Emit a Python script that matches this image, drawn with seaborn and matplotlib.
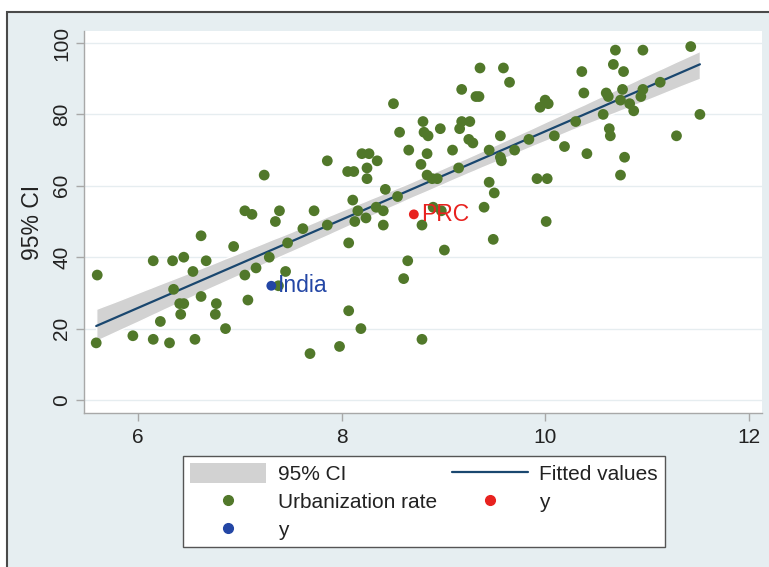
import numpy as np
import pandas as pd
import matplotlib
matplotlib.use("Agg")
import matplotlib.pyplot as plt
import seaborn as sns
from matplotlib.patches import Rectangle, Patch
from matplotlib.lines import Line2D

# log GDP per capita (x) and urbanization rate (y)
gdp = [5.60, 5.59, 5.95, 6.15, 6.34, 6.45, 6.62, 6.67, 6.54, 6.94,
       7.05, 7.12, 7.05, 7.16, 7.08, 6.35, 6.41, 6.45, 6.42, 6.62,
       6.77, 6.76, 6.86, 6.22, 6.15, 6.31, 6.56, 7.24, 7.86, 8.06,
       8.12, 8.20, 8.27, 8.25, 8.25, 8.35, 8.51, 8.57, 8.43, 8.55,
       8.11, 8.16, 8.13, 8.24, 8.34, 8.41, 8.41, 8.07, 7.73, 7.86,
       7.62, 7.47, 7.39, 7.35, 7.29, 7.45, 7.38, 7.69, 7.98, 8.07,
       8.19, 8.79, 8.65, 8.61, 8.79, 8.80, 8.81, 8.85, 8.66, 8.84,
       8.78, 8.84, 9.36, 9.59, 9.65, 9.18, 9.32, 9.35, 10.36, 10.38,
       10.00, 10.03, 9.95, 8.97, 9.18, 9.26, 9.16, 9.25, 9.29, 9.09,
       9.56, 9.45, 9.56, 9.57, 9.70, 9.84, 10.09, 10.19, 10.30, 10.41,
       10.57, 9.15, 8.89, 8.94, 9.45, 9.50, 9.92, 10.02, 9.40, 8.90,
       8.98, 10.01, 9.01, 9.49, 10.60, 10.62, 10.67, 10.69, 10.96, 10.77,
       10.76, 10.74, 10.83, 10.87, 10.96, 10.94, 11.13, 11.43, 11.52, 11.29,
       10.63, 10.64, 10.78, 10.74]
urban = [35, 16, 18, 39, 39, 40, 46, 39, 36, 43,
         53, 52, 35, 37, 28, 31, 27, 27, 24, 29,
         27, 24, 20, 22, 17, 16, 17, 63, 67, 64,
         64, 69, 69, 65, 62, 67, 83, 75, 59, 57,
         56, 53, 50, 51, 54, 53, 49, 44, 53, 49,
         48, 44, 53, 50, 40, 36, 32, 13, 15, 25,
         20, 49, 39, 34, 17, 78, 75, 74, 70, 69,
         66, 63, 93, 93, 89, 87, 85, 85, 92, 86,
         84, 83, 82, 76, 78, 78, 76, 73, 72, 70,
         74, 70, 68, 67, 70, 73, 74, 71, 78, 69,
         80, 65, 62, 62, 61, 58, 62, 62, 54, 54,
         53, 50, 42, 45, 86, 85, 94, 98, 98, 92,
         87, 84, 83, 81, 87, 85, 89, 99, 80, 74,
         76, 74, 68, 63]

india_x, india_y = [7.31], [32]
prc_x, prc_y = [8.71], [52]

df = pd.DataFrame({"gdp": gdp, "urban": urban})

green = "#51782a"
navy = "#1a476f"
band = "#d2d2d2"
red = "#e8221f"
blue = "#2346a5"

sns.set_theme(style="white")
plt.rcParams["font.family"] = ["Liberation Sans", "DejaVu Sans"]

fig = plt.figure(figsize=(7.69, 5.67), dpi=100, facecolor="white")
# stata style graph region with a dark frame on top / left
bg = Rectangle((7 / 769, -0.1), 1.2, 1 - 11.5 / 567 + 0.1,
               transform=fig.transFigure, facecolor="#e6eef1",
               edgecolor="#4a4a4a", lw=1.5, zorder=-10)
fig.patches.append(bg)

ax = fig.add_axes([84 / 769, 1 - 413 / 567, (762 - 84) / 769, (413 - 31) / 567])
ax.set_zorder(2)
ax.set_facecolor("white")

sns.regplot(data=df, x="gdp", y="urban", ax=ax, scatter=False, ci=95,
            n_boot=1000, seed=1, color=navy, line_kws={"lw": 1.6, "zorder": 3})
for coll in ax.collections:
    coll.set_facecolor(band)
    coll.set_alpha(1)
    coll.set_zorder(2)

sns.scatterplot(data=df, x="gdp", y="urban", ax=ax, color=green, s=60,
                edgecolor="none", zorder=4)
sns.scatterplot(x=prc_x, y=prc_y, ax=ax, color=red, s=50, edgecolor="none", zorder=5)
sns.scatterplot(x=india_x, y=india_y, ax=ax, color=blue, s=50, edgecolor="none", zorder=5)
ax.annotate("PRC", (prc_x[0], prc_y[0]), xytext=(5, 0), textcoords="offset points",
            va="center", ha="left", color=red, fontsize=16.5, zorder=6)
ax.annotate("India", (india_x[0], india_y[0]), xytext=(5, 0), textcoords="offset points",
            va="center", ha="left", color=blue, fontsize=16.5, zorder=6)

ax.set_xlim(5.47, 12.13)
ax.set_ylim(-3.64, 103.36)
ax.set_xticks([6, 8, 10, 12])
ax.set_yticks([0, 20, 40, 60, 80, 100])
ax.grid(axis="y", color="#e6edf0", lw=1)
ax.set_axisbelow(True)
for s in ["top", "right"]:
    ax.spines[s].set_visible(False)
for s in ["left", "bottom"]:
    ax.spines[s].set_color("#a8a8a8")
    ax.spines[s].set_linewidth(1)
ax.tick_params(axis="both", colors="#a8a8a8", length=6, width=1, labelcolor="#222222",
               labelsize=15, left=True, bottom=True)
ax.tick_params(axis="y", pad=3)
ax.tick_params(axis="x", pad=5)
plt.setp(ax.get_yticklabels(), rotation=90, va="center")
ax.set_xlabel("")
ax.set_ylabel("95% CI", fontsize=16.5, color="#222222", labelpad=6)

handles = [
    Patch(facecolor=band, edgecolor="none", label="95% CI"),
    Line2D([], [], marker="o", ls="", color=green, markersize=7, label="Urbanization rate"),
    Line2D([], [], marker="o", ls="", color=blue, markersize=7, label="y"),
    Line2D([], [], color=navy, lw=1.6, label="Fitted values"),
    Line2D([], [], marker="o", ls="", color=red, markersize=7, label="y"),
]
leg = fig.legend(handles=handles, ncol=2, loc="upper left",
                 bbox_to_anchor=(183 / 769, 1 - 456 / 567), bbox_transform=fig.transFigure,
                 borderaxespad=0, fontsize=15, frameon=True, fancybox=False, framealpha=1,
                 handlelength=3.65, handleheight=1.05, handletextpad=0.55,
                 columnspacing=0.7, labelspacing=0.35, borderpad=0.35)
leg.set_zorder(5)
leg.get_frame().set_edgecolor("#555555")
leg.get_frame().set_linewidth(1)
leg.get_frame().set_facecolor("white")
for t in leg.get_texts():
    t.set_color("#222222")

fig.savefig("out.png", dpi=100, facecolor=fig.get_facecolor())
